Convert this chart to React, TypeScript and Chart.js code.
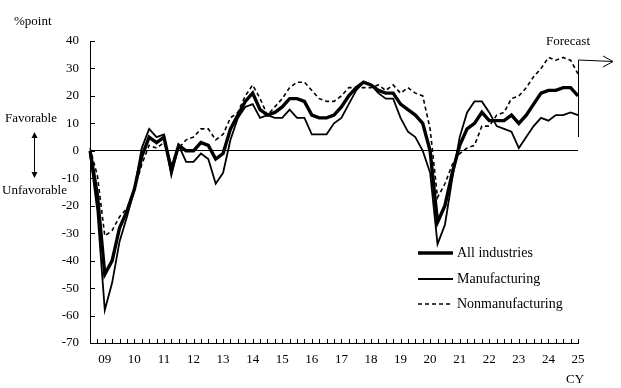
import React, { useEffect, useRef } from "react";
import { Chart, registerables } from "chart.js";

Chart.register(...registerables);

// Survey months (yy/m), Sep-2008 .. Mar-2025 (last = forecast)
const categories = [
  "08/9", "08/12",
  "09/3", "09/6", "09/9", "09/12",
  "10/3", "10/6", "10/9", "10/12",
  "11/3", "11/6", "11/9", "11/12",
  "12/3", "12/6", "12/9", "12/12",
  "13/3", "13/6", "13/9", "13/12",
  "14/3", "14/6", "14/9", "14/12",
  "15/3", "15/6", "15/9", "15/12",
  "16/3", "16/6", "16/9", "16/12",
  "17/3", "17/6", "17/9", "17/12",
  "18/3", "18/6", "18/9", "18/12",
  "19/3", "19/6", "19/9", "19/12",
  "20/3", "20/6", "20/9", "20/12",
  "21/3", "21/6", "21/9", "21/12",
  "22/3", "22/6", "22/9", "22/12",
  "23/3", "23/6", "23/9", "23/12",
  "24/3", "24/6", "24/9", "24/12",
  "25/3",
];

const allIndustries = [
  0, -16,
  -45, -40, -28, -22,
  -14, -2, 5, 3,
  5, -7, 2, 0,
  0, 3, 2, -3,
  -1, 8, 13, 18,
  21, 15, 13, 14,
  16, 19, 19, 18,
  13, 12, 12, 13,
  16, 20, 23, 25,
  24, 22, 21, 21,
  17, 15, 13, 10,
  0, -26, -20, -8,
  2, 8, 10, 14,
  11, 11, 11, 13,
  10, 13, 17, 21,
  22, 22, 23, 23,
  20,
];

const manufacturing = [
  -1, -22,
  -58, -48, -33, -24,
  -14, 1, 8, 5,
  6, -9, 2, -4,
  -4, -1, -3, -12,
  -8, 4, 12, 16,
  17, 12, 13, 12,
  12, 15, 12, 12,
  6, 6, 6, 10,
  12, 17, 22, 25,
  24, 21, 19, 19,
  12, 7, 5, 0,
  -8, -34, -27, -10,
  5, 14, 18, 18,
  14, 9, 8, 7,
  1, 5, 9, 12,
  11, 13, 13, 14,
  13,
];

const nonmanufacturing = [
  1, -9,
  -31, -29, -24, -21,
  -14, -5, 2, 1,
  3, -5, 1, 4,
  5, 8, 8, 4,
  6, 12, 14, 20,
  24, 19, 13, 16,
  19, 23, 25, 25,
  22, 19, 18, 18,
  20, 23, 23, 23,
  23, 24, 22, 24,
  21, 23, 21, 20,
  8, -17, -12, -5,
  -1, 1, 2, 9,
  9, 13, 14, 19,
  20, 23, 27, 30,
  34, 33, 34, 33,
  28,
];

const yTicks = [40, 30, 20, 10, 0, -10, -20, -30, -40, -50, -60, -70];

const FONT = "'Liberation Serif', 'Times New Roman', serif";

const overlay = {
  id: "overlay",
  afterDraw(chart: any) {
    const { ctx, chartArea, scales } = chart;
    const xs = scales.x;
    const ys = scales.y;
    ctx.save();
    ctx.strokeStyle = "#000";
    ctx.fillStyle = "#000";
    ctx.lineWidth = 1;
    ctx.setLineDash([]);

    // inside tick marks on y-axis
    ctx.beginPath();
    for (const v of yTicks) {
      const py = Math.round(ys.getPixelForValue(v)) + 0.5;
      ctx.moveTo(chartArea.left, py);
      ctx.lineTo(chartArea.left + 5, py);
    }
    // inside tick marks on x-axis
    for (let i = 1; i < categories.length; i++) {
      const px = Math.round(xs.getPixelForValue(i)) + 0.5;
      ctx.moveTo(px, chartArea.bottom);
      ctx.lineTo(px, chartArea.bottom - 4);
    }
    ctx.stroke();

    ctx.font = "13px " + FONT;
    ctx.textBaseline = "middle";

    // left annotations
    ctx.textAlign = "left";
    ctx.fillText("%point", 14, 22);
    ctx.fillText("Favorable", 5, 119);
    ctx.fillText("Unfavorable", 2, 191);

    // double arrow
    ctx.beginPath();
    ctx.moveTo(34.5, 135);
    ctx.lineTo(34.5, 175);
    ctx.stroke();
    ctx.beginPath();
    ctx.moveTo(34.5, 132);
    ctx.lineTo(31.5, 138);
    ctx.lineTo(37.5, 138);
    ctx.closePath();
    ctx.fill();
    ctx.beginPath();
    ctx.moveTo(34.5, 178);
    ctx.lineTo(31.5, 172);
    ctx.lineTo(37.5, 172);
    ctx.closePath();
    ctx.fill();

    // CY
    ctx.textAlign = "center";
    ctx.fillText("CY", 575, 380);

    // Forecast marker
    const fx = Math.round(xs.getPixelForValue(categories.length - 1)) + 0.5;
    ctx.fillText("Forecast", 568, 42);
    ctx.beginPath();
    ctx.moveTo(fx, 137);
    ctx.lineTo(fx, 60);
    ctx.lineTo(613, 61.5);
    ctx.moveTo(603, 56);
    ctx.lineTo(613, 61.5);
    ctx.lineTo(603, 67);
    ctx.stroke();

    // legend
    ctx.font = "14px " + FONT;
    const rows = [253, 279, 304];
    chart.data.datasets.forEach((ds: any, k: number) => {
      const yy = rows[k];
      ctx.beginPath();
      ctx.lineWidth = ds.borderWidth;
      ctx.setLineDash(ds.borderDash || []);
      ctx.moveTo(418, yy);
      ctx.lineTo(453, yy);
      ctx.stroke();
      ctx.setLineDash([]);
      ctx.textAlign = "left";
      ctx.fillText(ds.label, 457, yy);
    });

    ctx.restore();
  },
};

export default function App() {
  const ref = useRef<HTMLCanvasElement | null>(null);

  useEffect(() => {
    if (!ref.current) return;
    const chart = new Chart(ref.current, {
      type: "line",
      data: {
        labels: categories,
        datasets: [
          {
            label: "All industries",
            data: allIndustries,
            borderColor: "#000",
            borderWidth: 3.4,
            pointRadius: 0,
            tension: 0,
            fill: false,
          },
          {
            label: "Manufacturing",
            data: manufacturing,
            borderColor: "#000",
            borderWidth: 1.8,
            pointRadius: 0,
            tension: 0,
            fill: false,
          },
          {
            label: "Nonmanufacturing",
            data: nonmanufacturing,
            borderColor: "#000",
            borderWidth: 1.6,
            borderDash: [4, 3],
            pointRadius: 0,
            tension: 0,
            fill: false,
          },
        ],
      },
      options: {
        animation: false,
        responsive: false,
        devicePixelRatio: 1,
        layout: { padding: { top: 41, right: 43, left: 0, bottom: 0 } },
        plugins: {
          legend: { display: false },
          tooltip: { enabled: false },
        },
        scales: {
          x: {
            type: "category",
            offset: false,
            grid: { display: true, drawOnChartArea: false, drawTicks: false },
            border: { display: true, color: "#000", width: 1 },
            ticks: {
              autoSkip: false,
              maxRotation: 0,
              minRotation: 0,
              padding: 9,
              color: "#000",
              font: { family: FONT, size: 13 },
              callback: (_v: any, i: number) => {
                const c = categories[i];
                const [yy, m] = c.split("/");
                return m === "3" ? yy : "";
              },
            },
            afterFit: (s: any) => {
              s.height = 45;
            },
          },
          y: {
            min: -70,
            max: 40,
            grid: {
              drawTicks: false,
              color: (c: any) => (c.tick && c.tick.value === 0 ? "#000" : "rgba(0,0,0,0)"),
              lineWidth: 1,
            },
            border: { display: true, color: "#000", width: 1 },
            ticks: {
              stepSize: 10,
              padding: 11,
              color: "#000",
              font: { family: FONT, size: 13 },
            },
            afterFit: (s: any) => {
              s.width = 90;
            },
          },
        },
      },
      plugins: [overlay],
    });
    return () => chart.destroy();
  }, []);

  return (
    <canvas
      ref={ref}
      width={621}
      height={388}
      style={{ position: "absolute", left: 0, top: 0, width: 621, height: 388 }}
    />
  );
}
